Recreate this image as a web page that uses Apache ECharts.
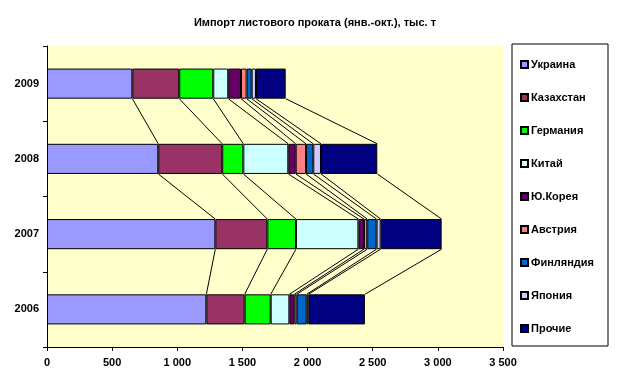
<!DOCTYPE html>
<html><head><meta charset="utf-8">
<script src="https://cdn.jsdelivr.net/npm/echarts@6/dist/echarts.min.js"></script>
<style>html,body{margin:0;padding:0;background:#fff}#c{width:623px;height:387px}</style>
</head><body><div id="c"></div>
<script>
var years = ['2006', '2007', '2008', '2009'];
var seriesNames = ['Украина', 'Казахстан', 'Германия', 'Китай', 'Ю.Корея', 'Австрия', 'Финляндия', 'Япония', 'Прочие'];
var ukraine    = [1223, 1292, 854, 655];
var kazakhstan = [294, 399, 491, 360];
var germany    = [200, 220, 162, 261];
var china      = [143, 479, 345, 115];
var korea      = [38, 43, 57, 98];
var austria    = [18, 25, 79, 43];
var finland    = [77, 72, 56, 39];
var japan      = [13, 31, 59, 33];
var others     = [434, 468, 432, 228];
var xTicks = [0, 500, 1000, 1500, 2000, 2500, 3000, 3500];

var values = [ukraine, kazakhstan, germany, china, korea, austria, finland, japan, others];
var colors = ['#9999FF', '#993366', '#00FF00', '#CCFFFF', '#660066', '#FF8080', '#0066CC', '#CCCCFF', '#000080'];
var FONT = '"Liberation Sans", Arial, sans-serif';

var chart = echarts.init(document.getElementById('c'));
var series = seriesNames.map(function (n, k) {
  return {
    name: n, type: 'bar', stack: 'total', data: values[k], barWidth: '40%',
    itemStyle: { color: colors[k], borderColor: '#000', borderWidth: 1 },
    emphasis: { disabled: true }, animation: false
  };
});
function cum(k, i) { var s = 0; for (var j = 0; j <= k; j++) s += values[j][i]; return s; }
series.push({
  type: 'custom', name: 'lines', silent: true, animation: false, z: 1,
  data: [0, 1, 2],
  renderItem: function (params, api) {
    var i = api.value(0);
    var band = api.size([0, 1])[1];
    var half = band * 0.2;
    var children = [];
    for (var k = 0; k < values.length; k++) {
      var p1 = api.coord([cum(k, i), i]);
      var p2 = api.coord([cum(k, i + 1), i + 1]);
      children.push({ type: 'line', shape: { x1: p1[0], y1: p1[1] - half, x2: p2[0], y2: p2[1] + half },
        style: { stroke: '#000', lineWidth: 1 } });
    }
    return { type: 'group', children: children };
  },
  encode: { x: -1, y: 0 }
});

chart.setOption({
  animation: false,
  backgroundColor: '#fff',
  title: { text: 'Импорт листового проката (янв.-окт.), тыс. т', left: 310, textAlign: 'center', top: 12,
    textStyle: { fontFamily: FONT, fontSize: 11, fontWeight: 'bold', color: '#000' } },
  grid: { left: 47, right: 120, top: 46, bottom: 40, show: true, backgroundColor: '#FFFFCC', borderWidth: 0 },
  legend: {
    orient: 'vertical', left: 512, top: 44, data: seriesNames,
    itemWidth: 7, itemHeight: 7, itemGap: 22, icon: 'rect',
    padding: [15, 14, 12, 8], borderColor: '#000', borderWidth: 1,
    textStyle: { fontFamily: FONT, fontSize: 11, fontWeight: 'bold', color: '#000', padding: [0, 0, 0, -2] },
    selectedMode: false
  },
  xAxis: {
    type: 'value', min: 0, max: 3500, interval: 500,
    axisLine: { show: true, lineStyle: { color: '#000' } },
    axisTick: { show: true, length: 4, lineStyle: { color: '#000' } },
    splitLine: { show: false },
    axisLabel: { fontFamily: FONT, fontSize: 11, fontWeight: 'bold', color: '#000', margin: 10,
      formatter: function (v) { return String(v).replace(/\B(?=(\d{3})+(?!\d))/g, ' '); } }
  },
  yAxis: {
    type: 'category', data: years,
    axisLine: { show: true, lineStyle: { color: '#000' } },
    axisTick: { show: true, length: 4, lineStyle: { color: '#000' } },
    axisLabel: { fontFamily: FONT, fontSize: 11, fontWeight: 'bold', color: '#000', margin: 8 }
  },
  series: series
});
</script></body></html>
